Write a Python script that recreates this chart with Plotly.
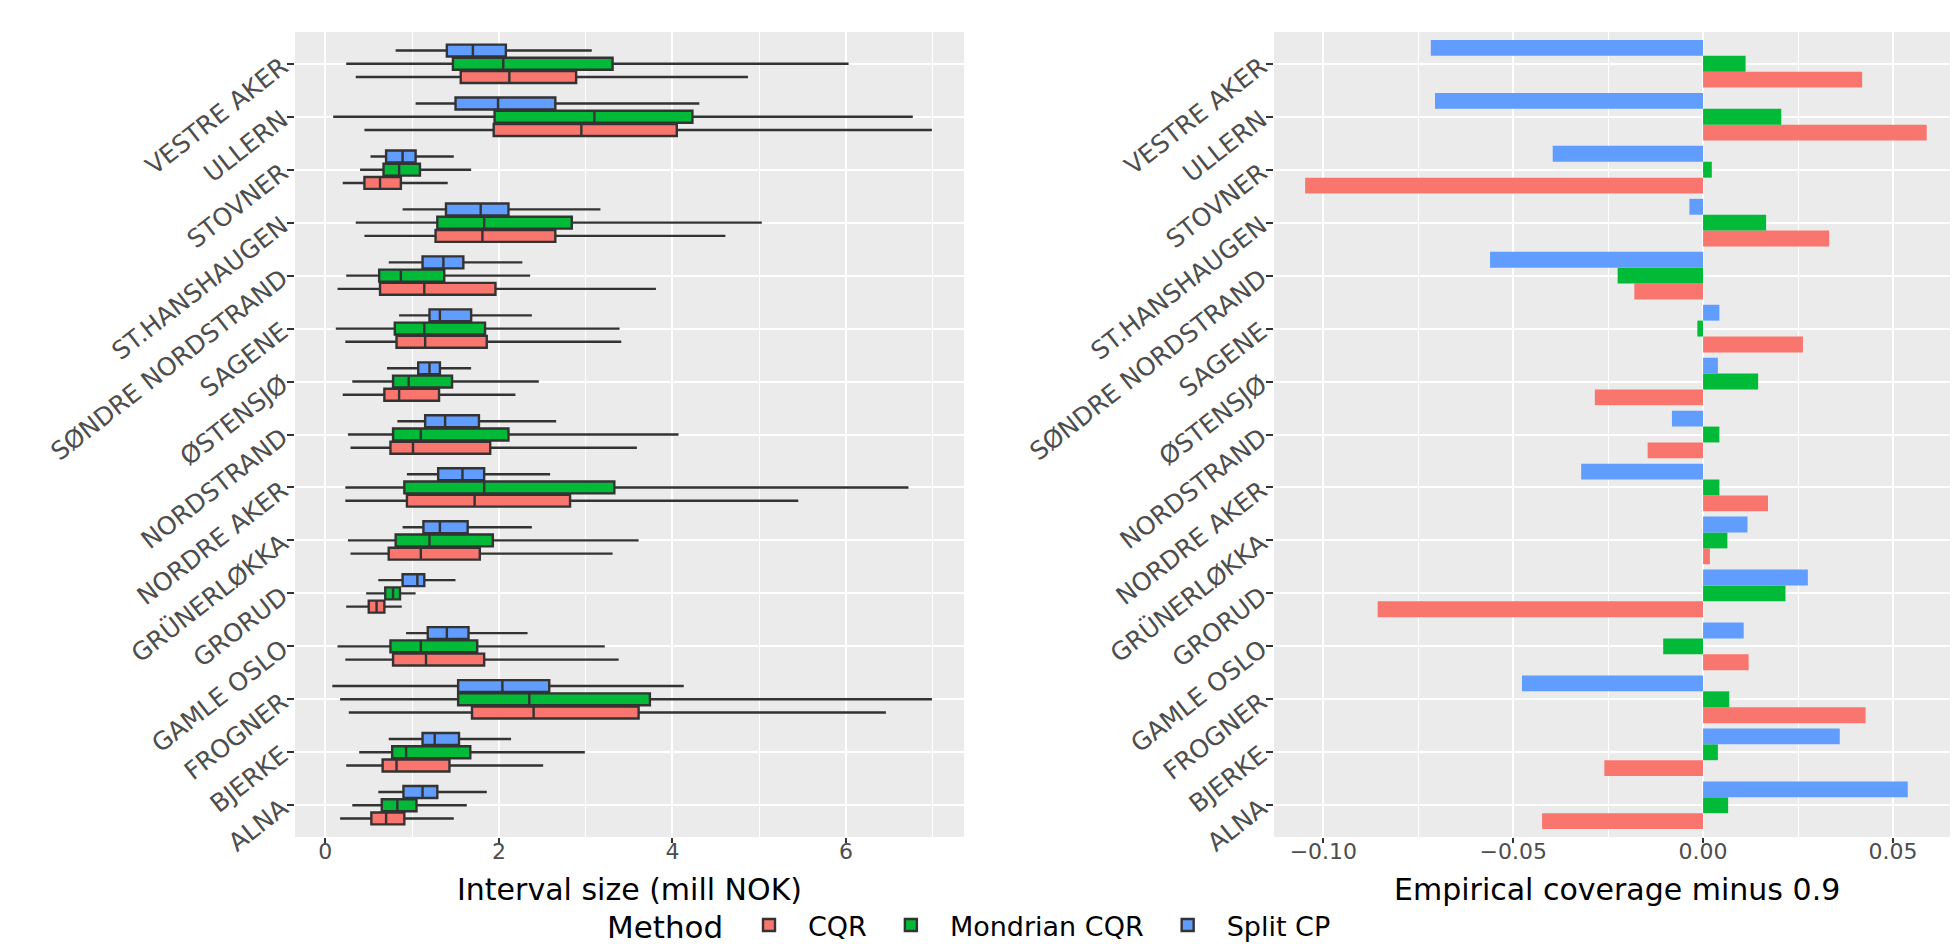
import plotly.graph_objects as go

# Districts, bottom to top (as drawn)
districts = ["ALNA", "BJERKE", "FROGNER", "GAMLE OSLO", "GRORUD", "GRÜNERLØKKA",
             "NORDRE AKER", "NORDSTRAND", "ØSTENSJØ", "SAGENE", "SØNDRE NORDSTRAND",
             "ST.HANSHAUGEN", "STOVNER", "ULLERN", "VESTRE AKER"]
methods = ["CQR", "Mondrian CQR", "Split CP"]
colors = ["#F8766D", "#00BA38", "#619CFF"]

# Interval size box statistics (mill NOK)
cqr_low = [0.17, 0.24, 0.27, 0.23, 0.24, 0.29, 0.23, 0.29, 0.20, 0.23, 0.14, 0.45, 0.20, 0.45, 0.35]
cqr_q1 = [0.53, 0.66, 1.69, 0.78, 0.50, 0.73, 0.94, 0.75, 0.68, 0.82, 0.63, 1.27, 0.45, 1.94, 1.56]
cqr_med = [0.70, 0.82, 2.40, 1.16, 0.59, 1.10, 1.72, 1.01, 0.85, 1.15, 1.14, 1.81, 0.63, 2.95, 2.12]
cqr_q3 = [0.91, 1.43, 3.61, 1.83, 0.68, 1.78, 2.82, 1.90, 1.31, 1.86, 1.96, 2.65, 0.87, 4.05, 2.89]
cqr_high = [1.48, 2.51, 6.46, 3.38, 0.88, 3.31, 5.45, 3.59, 2.19, 3.41, 3.81, 4.61, 1.41, 6.99, 4.87]

mon_low = [0.31, 0.39, 0.17, 0.14, 0.47, 0.26, 0.23, 0.26, 0.31, 0.12, 0.24, 0.35, 0.40, 0.09, 0.24]
mon_q1 = [0.65, 0.77, 1.53, 0.75, 0.69, 0.81, 0.91, 0.78, 0.78, 0.80, 0.62, 1.29, 0.67, 1.95, 1.47]
mon_med = [0.83, 0.93, 2.35, 1.10, 0.78, 1.20, 1.83, 1.10, 0.96, 1.14, 0.87, 1.83, 0.85, 3.10, 2.05]
mon_q3 = [1.05, 1.67, 3.74, 1.75, 0.86, 1.93, 3.33, 2.11, 1.46, 1.84, 1.37, 2.84, 1.09, 4.23, 3.31]
mon_high = [1.63, 2.99, 6.99, 3.22, 1.04, 3.61, 6.72, 4.07, 2.46, 3.39, 2.36, 5.03, 1.68, 6.77, 6.03]

scp_low = [0.61, 0.73, 0.08, 0.93, 0.61, 0.89, 0.94, 0.83, 0.71, 0.85, 0.73, 0.89, 0.52, 1.04, 0.81]
scp_q1 = [0.90, 1.12, 1.53, 1.18, 0.89, 1.13, 1.30, 1.15, 1.07, 1.20, 1.12, 1.39, 0.70, 1.50, 1.40]
scp_med = [1.12, 1.26, 2.04, 1.40, 1.06, 1.32, 1.58, 1.38, 1.20, 1.32, 1.36, 1.79, 0.89, 1.99, 1.70]
scp_q3 = [1.29, 1.54, 2.58, 1.65, 1.14, 1.64, 1.83, 1.77, 1.32, 1.68, 1.59, 2.11, 1.04, 2.65, 2.08]
scp_high = [1.86, 2.14, 4.13, 2.33, 1.50, 2.38, 2.59, 2.66, 1.68, 2.38, 2.27, 3.17, 1.48, 4.31, 3.07]

# Empirical coverage minus 0.9
cov_cqr = [-0.0424, -0.0260, 0.0428, 0.0120, -0.0857, 0.0018, 0.0171, -0.0146, -0.0285,
           0.0263, -0.0181, 0.0332, -0.1048, 0.0589, 0.0419]
cov_mon = [0.0066, 0.0039, 0.0069, -0.0105, 0.0217, 0.0064, 0.0043, 0.0043, 0.0145,
           -0.0015, -0.0225, 0.0166, 0.0023, 0.0206, 0.0112]
cov_scp = [0.0539, 0.0360, -0.0477, 0.0107, 0.0276, 0.0117, -0.0321, -0.0082, 0.0039,
           0.0043, -0.0561, -0.0036, -0.0396, -0.0706, -0.0717]

x1_ticks = [0, 2, 4, 6]
x2_ticks = [-0.1, -0.05, 0, 0.05]
x2_labels = ["\u22120.10", "\u22120.05", "0.00", "0.05"]

box_stats = [
    (cqr_low, cqr_q1, cqr_med, cqr_q3, cqr_high),
    (mon_low, mon_q1, mon_med, mon_q3, mon_high),
    (scp_low, scp_q1, scp_med, scp_q3, scp_high),
]
coverages = [cov_cqr, cov_mon, cov_scp]

FONT = "DejaVu Sans"
fig = go.Figure()

for name, col, (lo, q1, md, q3, hi) in zip(methods, colors, box_stats):
    fig.add_trace(go.Box(
        y=districts, lowerfence=lo, q1=q1, median=md, q3=q3, upperfence=hi,
        orientation="h", name=name, legendgroup=name,
        fillcolor=col, line=dict(color="#333333", width=2.4),
        whiskerwidth=0, boxpoints=False, hoverinfo="skip",
        xaxis="x", yaxis="y",
    ))

for name, col, cov in zip(methods, colors, coverages):
    fig.add_trace(go.Bar(
        x=cov, y=districts, orientation="h", name=name, legendgroup=name,
        marker=dict(color=col, line=dict(width=0)), showlegend=False,
        xaxis="x2", yaxis="y2",
    ))

W, H = 1958, 944
ydom = [1 - 829 / H, 1 - 24 / H]
x1dom = [287 / W, 956 / W]
x2dom = [1266 / W, 1951 / W]

common_y = dict(
    categoryorder="array", categoryarray=districts, range=[-0.6, 14.6],
    showgrid=True, gridcolor="white", gridwidth=2.2, zeroline=False,
    ticks="outside", ticklen=7, tickwidth=2, tickcolor="#333333",
    tickangle=-38, tickfont=dict(family=FONT, size=25, color="#4D4D4D"),
    showline=False, automargin=False, domain=ydom,
)
common_x = dict(
    showgrid=True, gridcolor="white", gridwidth=2.2, zeroline=False,
    ticks="outside", ticklen=5, tickwidth=2, tickcolor="#333333",
    tickfont=dict(family=FONT, size=22, color="#4D4D4D"),
    ticklabelstandoff=-10, automargin=False,
)

fig.update_layout(
    width=W, height=H,
    margin=dict(l=0, r=0, t=0, b=0),
    paper_bgcolor="white", plot_bgcolor="#EBEBEB",
    boxmode="group", boxgap=0.25, boxgroupgap=0.1,
    barmode="group", bargap=0.1, bargroupgap=0,
    font=dict(family=FONT, color="black"),
    xaxis=dict(
        domain=x1dom, anchor="y", range=[-0.35, 7.36],
        tickvals=x1_ticks, ticktext=[str(v) for v in x1_ticks],
        minor=dict(tickvals=[1, 3, 5, 7], showgrid=True, gridcolor="white",
                   gridwidth=1.1, ticklen=0),
        **common_x,
    ),
    yaxis=dict(anchor="x", **common_y),
    xaxis2=dict(
        domain=x2dom, anchor="y2", range=[-0.113, 0.0674],
        tickvals=x2_ticks, ticktext=x2_labels,
        minor=dict(tickvals=[-0.075, -0.025, 0.025], showgrid=True, gridcolor="white",
                   gridwidth=1.1, ticklen=0),
        **common_x,
    ),
    yaxis2=dict(anchor="x2", **common_y),
    legend=dict(
        orientation="h", x=722 / W, xanchor="left", y=2 / H, yanchor="bottom",
        font=dict(family=FONT, size=27, color="black"), bgcolor="rgba(0,0,0,0)",
        itemwidth=68,
    ),
    annotations=[
        dict(text="Interval size (mill NOK)", xref="paper", yref="paper",
             x=sum(x1dom) / 2, y=1 - 881 / H, xanchor="center", yanchor="middle",
             showarrow=False, font=dict(family=FONT, size=30, color="black")),
        dict(text="Empirical coverage minus 0.9", xref="paper", yref="paper",
             x=sum(x2dom) / 2, y=1 - 881 / H, xanchor="center", yanchor="middle",
             showarrow=False, font=dict(family=FONT, size=30, color="black")),
        dict(text="Method", xref="paper", yref="paper",
             x=597 / W, y=5 / H, xanchor="left", yanchor="bottom",
             showarrow=False, font=dict(family=FONT, size=31, color="black")),
    ],
)

fig.write_html("out.html")
